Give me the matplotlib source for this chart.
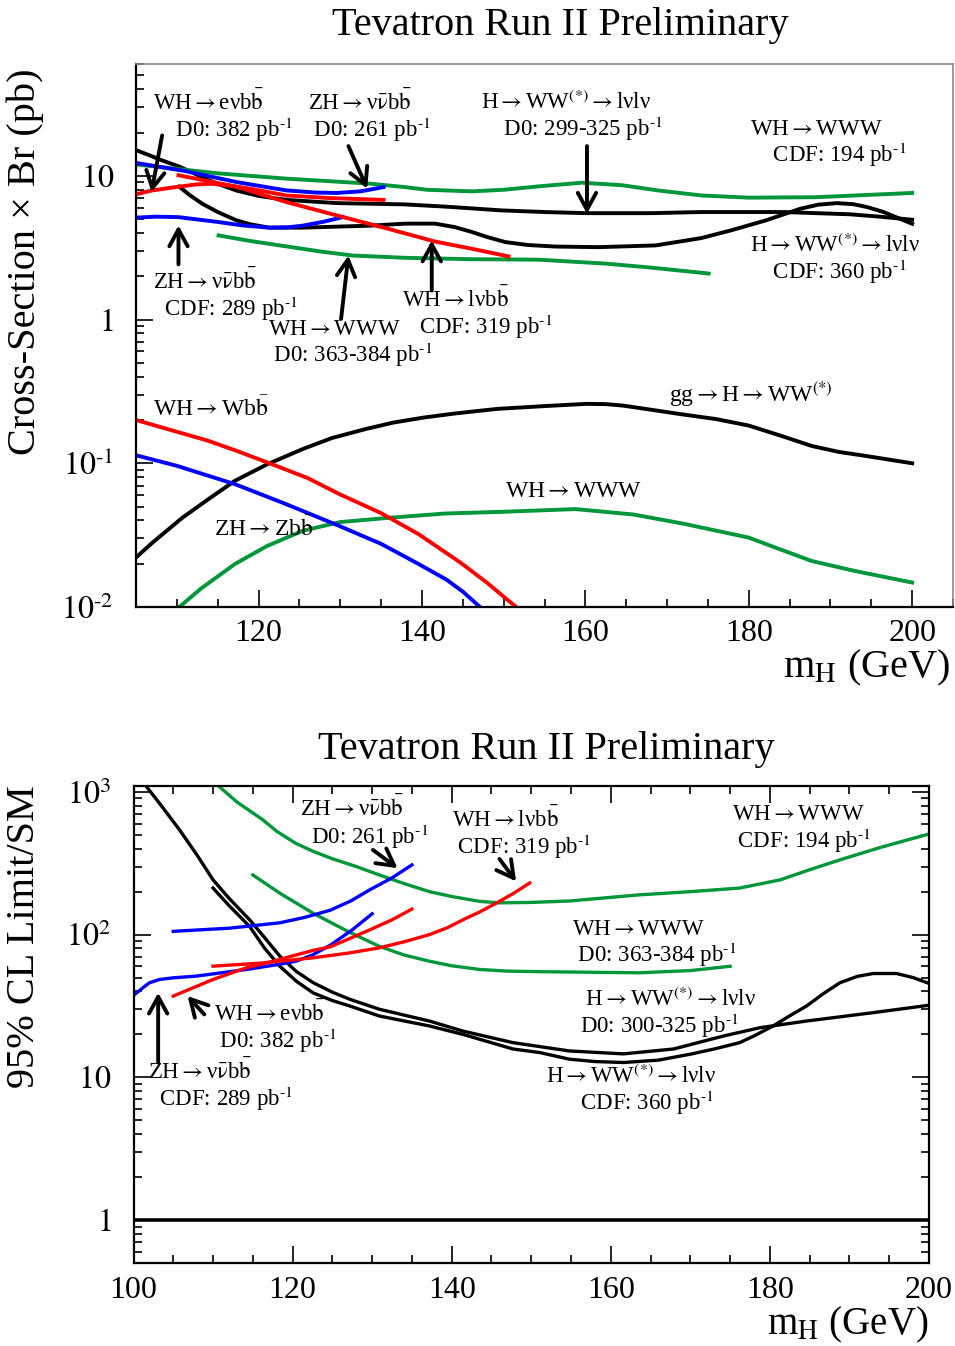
import matplotlib
matplotlib.use("Agg")
import numpy as np
import matplotlib.pyplot as plt
from matplotlib.ticker import MultipleLocator, LogLocator, FixedLocator, FixedFormatter, NullFormatter

plt.rcParams['font.family'] = ['Liberation Serif', 'DejaVu Serif']
plt.rcParams['mathtext.fontset'] = 'stix'

GREEN = '#00963a'

# ---------------- top panel : cross-section x Br (pb) ----------------
d0_hww_m = [105, 106.5, 108.2, 110.3, 113.1, 115, 117.3, 120, 123.4, 129.6, 137.9, 143, 149.7, 155, 160.1, 168.1,
            174.2, 184.2, 192.4, 196, 200]
d0_hww_xs = [15.1, 14.0, 12.8, 11.6, 9.8, 8.8, 7.9, 7.25, 6.8, 6.46, 6.33, 6.1, 5.75, 5.6, 5.5, 5.5,
             5.6, 5.6, 5.4, 5.2, 4.95]

cdf_hww_m = [110.3, 111.5, 113.1, 115, 117.3, 119, 121.3, 125.4, 133.6, 138, 141.6, 144, 146.1, 148, 150.2, 153,
             156.4, 161.6, 168.6, 174.2, 178, 182.1, 186.3, 188.5, 190.8, 192.8, 194.5, 196.5, 198.6, 200]
cdf_hww_xs = [8.4, 7.4, 6.4, 5.6, 4.9, 4.6, 4.36, 4.36, 4.5, 4.65, 4.65, 4.4, 4.07, 3.75, 3.46, 3.3,
              3.22, 3.19, 3.28, 3.69, 4.2, 4.9, 5.9, 6.3, 6.46, 6.35, 6.06, 5.6, 5.0, 4.64]

cdf_wh_m = [110.2, 117.3, 123.4, 129.6, 135.8, 141.6, 146.1, 150.6]
cdf_wh_xs = [10.1, 8.4, 6.57, 5.3, 4.29, 3.49, 3.11, 2.75]

d0_wh_m = [105, 106.9, 110.2, 112.4, 114.3, 116.5, 119.2, 123.4, 128.8, 135.3]
d0_wh_xs = [7.44, 7.9, 8.4, 8.72, 8.8, 8.55, 8.1, 7.3, 7.0, 6.8]

d0_zh_m = [105, 111, 117.3, 123.4, 127, 129.6, 132.5, 135.3]
d0_zh_xs = [12.3, 10.8, 9.05, 7.92, 7.65, 7.6, 7.8, 8.35]

cdf_zh_m = [105, 107.5, 110.2, 115.1, 118, 121.3, 123.5, 125.4, 128, 130.3]
cdf_zh_xs = [5.12, 5.2, 5.16, 4.77, 4.52, 4.36, 4.38, 4.5, 4.8, 5.16]

cdf_www_m = [105, 115.1, 123.4, 133.6, 137.9, 140.6, 146.1, 150, 154.3, 159.6, 164.5, 169, 174.2, 180, 188.2, 200]
cdf_www_xs = [12.0, 10.4, 9.56, 8.83, 8.35, 8.0, 7.8, 8.0, 8.45, 8.96, 8.6, 7.9, 7.3, 7.05, 7.1, 7.6]

d0_www_m = [115.1, 119, 123.4, 127.5, 131.5, 137.9, 146, 154.3, 162.5, 168, 175.1]
d0_www_xs = [3.85, 3.52, 3.23, 2.98, 2.79, 2.69, 2.63, 2.61, 2.45, 2.3, 2.09]

# standard model expectations
gghww_m = [105, 107, 110.7, 114, 117.1, 121, 125.4, 129, 133.1, 136.5, 140.2, 144, 149.2, 155, 160.1, 162.5,
           164.6, 168, 171.6, 176, 180, 184, 187.7, 191, 194.1, 200]
gghww_xs = [0.0221, 0.028, 0.0419, 0.057, 0.0755, 0.098, 0.1256, 0.15, 0.173, 0.192, 0.208, 0.222, 0.239, 0.25,
            0.259, 0.258, 0.252, 0.236, 0.22, 0.203, 0.183, 0.155, 0.132, 0.12, 0.113, 0.1]

whwww_m = [109, 110.3, 113, 117.1, 121, 125.4, 130, 136.3, 142.8, 150, 158.8, 165.9, 172, 180, 184, 187.7, 193, 200]
whwww_xs = [0.0085, 0.01, 0.0135, 0.0199, 0.0265, 0.0339, 0.039, 0.0419, 0.0447, 0.046, 0.048, 0.044, 0.038,
            0.0304, 0.025, 0.0209, 0.0178, 0.0148]

whwbb_m = [105, 109, 113.8, 117.5, 121.6, 126, 129.9, 135, 139.6, 144.7, 148, 150, 152.5]
whwbb_xs = [0.2, 0.172, 0.1436, 0.121, 0.0987, 0.079, 0.061, 0.045, 0.0321, 0.0204, 0.0147, 0.0118, 0.009]

zhzbb_m = [105, 110, 117.1, 123, 129.9, 135, 139.6, 143, 145, 148]
zhzbb_xs = [0.1137, 0.096, 0.0716, 0.053, 0.0366, 0.0275, 0.0199, 0.0155, 0.0128, 0.009]

# ---------------- bottom panel : 95% CL limit / SM ----------------
lim_d0_hww_m = [101.2, 101.6, 103.5, 105.8, 108, 110, 112, 114.6, 116.5, 118.4, 120.5, 122.6, 125, 127.2, 130.9,
                137.2, 141.4, 147.7, 154.8, 161.6, 167.9, 174.2, 178.8, 184.6, 193, 200]
lim_d0_hww = [1200, 1096, 800, 541, 360, 242, 180, 127, 95, 70.6, 55, 46, 39.5, 35.2, 30,
              24.8, 21.1, 17.5, 15.3, 14.6, 15.8, 19.5, 22.3, 24.8, 28.4, 32]

lim_cdf_hww_m = [110, 112, 114.6, 116.5, 118.4, 120.5, 122.6, 125, 127.2, 130.9, 137.2, 141.4, 147.7, 151.1,
                 154.8, 158, 161.6, 166, 170.2, 173, 176.2, 178, 180.4, 182.5, 184.6, 186.7, 188.8, 191, 193,
                 195.9, 198, 200]
lim_cdf_hww = [212, 160, 114, 80, 60, 47, 39, 34.5, 31.6, 26.9, 22.9, 20, 15.8, 14.9,
               13.4, 12.9, 12.7, 13.2, 14.6, 15.8, 17.5, 19.5, 22.9, 27, 31.6, 38.5, 46, 51, 53.4,
               53.4, 50, 45.5]

lim_cdf_www_m = [110.3, 113, 116.3, 118, 120.4, 122.5, 125, 128, 130.9, 134, 137.2, 140, 143.5, 146, 149.8,
                 154.8, 163.6, 170, 176.2, 181.3, 185, 188.8, 194, 200]
lim_cdf_www = [1150, 850, 635, 530, 436, 385, 340, 300, 262, 228, 200, 185, 171, 167, 168,
               172, 190, 200, 212, 242, 285, 334, 410, 507]

lim_d0_www_m = [115, 118.4, 122.6, 125, 127, 130.9, 134, 137.2, 140, 143.5, 147, 151.1, 163.6, 170, 175]
lim_d0_www = [262, 195, 141, 120, 105, 82.8, 72, 65.1, 60.5, 57, 55.5, 55, 54, 56, 60]

lim_cdf_zh_m = [100, 101.2, 102, 103.3, 105, 107.9, 114.2, 118, 120.4, 122.5, 124.7, 127.5, 130]
lim_cdf_zh = [37.5, 42.5, 46, 48.5, 49.8, 51.2, 57, 61.5, 65.1, 72, 84, 108, 140]

lim_d0_zh_m = [105, 112.1, 118.4, 121.5, 124.7, 127.3, 129.7, 132.5, 135]
lim_d0_zh = [105.4, 111, 121, 132, 148, 172, 206, 250, 308]

lim_d0_wh_m = [105, 110, 114.2, 117.5, 122.6, 124.7, 127.2, 129.7, 132.5, 135]
lim_d0_wh = [37.1, 48.5, 58.6, 65, 77.6, 82, 94, 108, 127, 151]

lim_cdf_wh_m = [110, 116.3, 122.6, 127.2, 130.9, 134, 137.2, 139.5, 141.4, 143.5, 145.6, 147.8, 149.8]
lim_cdf_wh = [60.1, 63.3, 68.8, 74.5, 80.8, 89, 100, 112, 127, 144, 166, 195, 230]

sm_ratio = 1.0

ARR = r"$\rightarrow$"
BB = r"b$\bar{\rm b}$"
NUNU = r"ν$\bar{\mathrm{\nu}}$"
HWW = r"H$\rightarrow$WW$^{(*)}\rightarrow$lνlν"
INV = r"pb$^{\text{-1}}$"

fig = plt.figure(figsize=(9.55, 13.46), dpi=100)


def style_axis(ax, all_sides):
    ax.set_yscale('log')
    ax.xaxis.set_major_locator(MultipleLocator(20))
    ax.xaxis.set_minor_locator(MultipleLocator(5))
    ax.yaxis.set_minor_locator(LogLocator(base=10, subs=range(2, 10)))
    ax.yaxis.set_minor_formatter(NullFormatter())
    ax.tick_params(which='both', direction='in', top=all_sides, right=all_sides,
                   labelsize=23, width=1.2)
    ax.tick_params(which='major', length=12)
    ax.tick_params(which='minor', length=6)
    ax.tick_params(axis='y', which='major', pad=16)
    ax.tick_params(axis='x', which='major', pad=9)
    for s in ax.spines.values():
        s.set_linewidth(1.6)


def label(ax, x, y, txt, size=17):
    ax.text(x, y, txt, fontsize=size, ha='left', va='center')


def label2(ax, x, y1, y2, line1, line2, size=16.5):
    # two-line annotation; y is the geometric middle of the two line centres (log axis)
    ax.text(x, np.sqrt(y1 * y2), line1 + "\n" + line2, fontsize=size, ha='left', va='center',
            multialignment='left', linespacing=1.05)


def arrow(ax, tail, head):
    ax.annotate('', xy=head, xytext=tail,
                arrowprops=dict(arrowstyle='->,head_length=0.55,head_width=0.3',
                                lw=2.8, color='k', mutation_scale=22, shrinkA=0, shrinkB=0))


# ================= top panel =================
ax1 = fig.add_axes([136 / 955, 1 - 607 / 1346, 817 / 955, 543 / 1346])
style_axis(ax1, False)
ax1.spines['top'].set_color('#8a8a8a')
ax1.spines['right'].set_color('#8a8a8a')
ax1.spines['top'].set_linewidth(1.2)
ax1.spines['right'].set_linewidth(1.2)

lw = 2.8
ax1.plot(d0_hww_m, d0_hww_xs, color='k', lw=lw)
ax1.plot(cdf_hww_m, cdf_hww_xs, color='k', lw=lw)
ax1.plot(cdf_www_m, cdf_www_xs, color=GREEN, lw=lw)
ax1.plot(d0_www_m, d0_www_xs, color=GREEN, lw=lw)
ax1.plot(d0_zh_m, d0_zh_xs, color='b', lw=lw)
ax1.plot(cdf_zh_m, cdf_zh_xs, color='b', lw=lw)
ax1.plot(d0_wh_m, d0_wh_xs, color='r', lw=lw)
ax1.plot(cdf_wh_m, cdf_wh_xs, color='r', lw=lw)
ax1.plot(gghww_m, gghww_xs, color='k', lw=lw)
ax1.plot(whwww_m, whwww_xs, color=GREEN, lw=lw)
ax1.plot(whwbb_m, whwbb_xs, color='r', lw=lw)
ax1.plot(zhzbb_m, zhzbb_xs, color='b', lw=lw)

ax1.set_xlim(105, 205)
ax1.set_ylim(0.01, 60)
ax1.yaxis.set_major_locator(FixedLocator([0.01, 0.1, 1, 10]))
ax1.yaxis.set_major_formatter(FixedFormatter([r'$10^{\text{-2}}$', r'$10^{\text{-1}}$', r'$1$', r'$10$']))
ax1.set_xticks([120, 140, 160, 180, 200])
ax1.set_xticklabels(['120', '140', '160', '180', '200'])

label2(ax1, 107.1, 31.0, 21.4, "WH" + ARR + "eν" + BB, "    D0: 382 " + INV)
label2(ax1, 126.1, 31.0, 21.4, "ZH" + ARR + NUNU + BB, " D0: 261 " + INV)
label2(ax1, 147.2, 31.0, 21.4, HWW, "    D0: 299-325 " + INV)
label2(ax1, 180.2, 20.1, 13.9, "WH" + ARR + "WWW", "    CDF: 194 " + INV)
label2(ax1, 180.2, 3.23, 2.13, HWW, "    CDF: 360 " + INV)
label2(ax1, 107.1, 1.75, 1.21, "ZH" + ARR + NUNU + BB, "  CDF: 289 " + INV)
label2(ax1, 121.2, 0.812, 0.561, "WH" + ARR + "WWW", " D0: 363-384 " + INV)
label2(ax1, 137.6, 1.356, 0.88, "WH" + ARR + "lν" + BB, "   CDF: 319 " + INV)
label(ax1, 107.1, 0.24, "WH" + ARR + "W" + BB)
label(ax1, 170.2, 0.305, r"gg$\rightarrow$H$\rightarrow$WW$^{(*)}$")
label(ax1, 150.2, 0.0632, "WH" + ARR + "WWW")
label(ax1, 114.6, 0.035, "ZH" + ARR + "Z" + BB)

arrow(ax1, (108.2, 19.1), (106.9, 7.71))
arrow(ax1, (131.0, 16.1), (133.3, 8.15))
arrow(ax1, (160.2, 16.1), (160.2, 5.45))
arrow(ax1, (110.2, 2.42), (110.2, 4.52))
arrow(ax1, (130.1, 1.01), (131.0, 2.79))
arrow(ax1, (141.2, 1.59), (141.2, 3.55))

fig.text(560 / 955, 1 - 25 / 1346, "Tevatron Run II Preliminary", fontsize=29, ha='center', va='center')
fig.text(25 / 955, 1 - 262 / 1346, "Cross-Section × Br (pb)", fontsize=29, rotation=90, ha='center', va='center')
fig.text(950 / 955, 1 - 668 / 1346, r"m$_{\rm H}$ (GeV)", fontsize=29, ha='right', va='center')

# ================= bottom panel =================
ax2 = fig.add_axes([133.5 / 955, 1 - 1263 / 1346, 795.5 / 955, 477 / 1346])
style_axis(ax2, True)
lw2 = 2.4
ax2.axhline(sm_ratio, color='k', lw=2.6)
ax2.plot(lim_d0_hww_m, lim_d0_hww, color='k', lw=lw2)
ax2.plot(lim_cdf_hww_m, lim_cdf_hww, color='k', lw=lw2)
ax2.plot(lim_cdf_www_m, lim_cdf_www, color=GREEN, lw=lw2)
ax2.plot(lim_d0_www_m, lim_d0_www, color=GREEN, lw=lw2)
ax2.plot(lim_cdf_zh_m, lim_cdf_zh, color='b', lw=lw2)
ax2.plot(lim_d0_zh_m, lim_d0_zh, color='b', lw=lw2)
ax2.plot(lim_d0_wh_m, lim_d0_wh, color='r', lw=lw2)
ax2.plot(lim_cdf_wh_m, lim_cdf_wh, color='r', lw=lw2)

ax2.set_xlim(100, 200)
ax2.set_ylim(0.5, 1100)
ax2.yaxis.set_major_locator(FixedLocator([1, 10, 100, 1000]))
ax2.yaxis.set_major_formatter(FixedFormatter([r'$1$', r'$10$', r'$10^{2}$', r'$10^{3}$']))
ax2.set_xticks([100, 120, 140, 160, 180, 200])
ax2.set_xticklabels(['100', '120', '140', '160', '180', '200'])

label2(ax2, 120.9, 722, 499, "ZH" + ARR + NUNU + BB, "  D0: 261 " + INV)
label2(ax2, 140.1, 615, 418, "WH" + ARR + "lν" + BB, " CDF: 319 " + INV)
label2(ax2, 175.2, 666, 446, "WH" + ARR + "WWW", " CDF: 194 " + INV)
label2(ax2, 155.1, 102.6, 72.5, "WH" + ARR + "WWW", " D0: 363-384 " + INV)
label2(ax2, 156.1, 34.1, 23.2, " " + HWW, "D0: 300-325 " + INV)
label2(ax2, 151.9, 9.73, 6.72, HWW, "      CDF: 360 " + INV)
label2(ax2, 110.1, 26.9, 18.2, "WH" + ARR + "eν" + BB, " D0: 382 " + INV)
label2(ax2, 101.8, 10.5, 7.28, "ZH" + ARR + NUNU + BB, "  CDF: 289 " + INV)

arrow(ax2, (130.1, 392), (133.2, 292))
arrow(ax2, (146.0, 339), (148.1, 236))
arrow(ax2, (108.9, 27.6), (106.8, 37.1))
arrow(ax2, (103.1, 12.7), (103.1, 39.2))

fig.text(546 / 955, 1 - 750 / 1346, "Tevatron Run II Preliminary", fontsize=29, ha='center', va='center')
fig.text(25 / 955, 1 - 937 / 1346, "95% CL Limit/SM", fontsize=29, rotation=90, ha='center', va='center')
fig.text(928 / 955, 1 - 1325 / 1346, r"m$_{\rm H}$ (GeV)", fontsize=28, ha='right', va='center')

fig.savefig("out.png", dpi=100)
